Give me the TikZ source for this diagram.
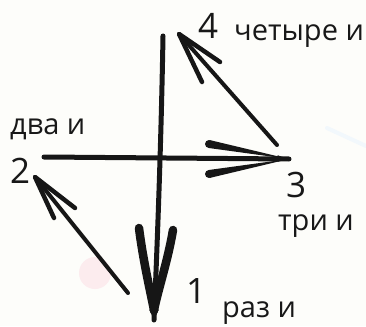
\documentclass[tikz,border=0pt]{standalone}
\usepackage{fontspec}
\setmainfont{Open Sans}
\usetikzlibrary{calc}
\definecolor{bg}{RGB}{253,253,250}
\definecolor{ink}{RGB}{22,22,22}
\definecolor{txt}{RGB}{24,24,24}
\definecolor{blush}{RGB}{252,236,238}
\definecolor{haze}{RGB}{242,248,252}
\tikzset{
  digit/.style={font=\fontsize{35}{35}\selectfont, text=txt, anchor=base west, inner sep=0pt},
  word/.style={font=\fontsize{29}{29}\selectfont, text=txt, anchor=base west, inner sep=0pt},
  shaft/.style={draw=ink, line cap=round, line join=round, line width=#1},
}
\newcommand{\wedgebarb}[3]{% start, tip, width
  \fill[ink] ($(#1)!#3/2!90:(#2)$) -- (#2) -- ($(#1)!#3/2!-90:(#2)$) -- cycle;
  \fill[ink] (#1) circle[radius=#3/2];
}
\begin{document}
\begin{tikzpicture}[x=1pt,y=-1pt]
\useasboundingbox (0,0) rectangle (366,326);
\fill[bg] (0,0) rectangle (366,326);
% faint background marks
\fill[blush] (95,273) circle[radius=16];
\draw[haze, line width=4pt, line cap=round] (327,128) -- (366,146);
% labels
\node[digit] (n4) at (198,39) {4};
\node[word] (w4) at (234,41) {четыре и};
\node[word] (w2) at (10,134) {два и};
\node[digit] (n2) at (10,183) {2};
\node[digit] (n3) at (286,197) {3};
\node[word] (w3) at (278,230) {три и};
\node[digit] (n1) at (186,303) {1};
\node[word] (w1) at (222,317) {раз и};
% arrow endpoints
\coordinate (v0) at (163,36);
\coordinate (v1) at (154,320);
\coordinate (vm) at (154,310);
\coordinate (vl) at (139,228);
\coordinate (vr) at (173,230);
\coordinate (h0) at (44,157);
\coordinate (h1) at (289,159);
\coordinate (hm) at (278,158.5);
\coordinate (hu) at (209,144);
\coordinate (hd) at (209,174);
\coordinate (a0) at (277,145);
\coordinate (a1) at (179,34);
\coordinate (au) at (220,62);
\coordinate (ad) at (202,82);
\coordinate (b0) at (128,293);
\coordinate (b1) at (35,177);
\coordinate (bu) at (75,208);
\coordinate (bd) at (54,218);
% vertical arrow 4 -> 1
\draw[shaft=5pt] (v0) .. controls (161,150) and (157,250) .. (v1);
\draw[shaft=8.5pt] (vl) .. controls (143,260) and (150,290) .. (vm);
\draw[shaft=8.5pt] (vr) .. controls (168,260) and (158,290) .. (vm);
\wedgebarb{vm}{v1}{9pt}
% horizontal arrow 2 -> 3
\draw[shaft=5pt] (h0) -- (h1);
\wedgebarb{hu}{h1}{8pt}
\wedgebarb{hd}{h1}{8pt}
\wedgebarb{hm}{h1}{6pt}
% diagonal 3 -> 4
\draw[shaft=4pt] (a0) -- (a1);
\draw[shaft=4.5pt] (au) -- (a1) -- (ad);
% diagonal 1 -> 2
\draw[shaft=4pt] (b0) -- (b1);
\draw[shaft=4.5pt] (bu) -- (b1) -- (bd);
\end{tikzpicture}
\end{document}
